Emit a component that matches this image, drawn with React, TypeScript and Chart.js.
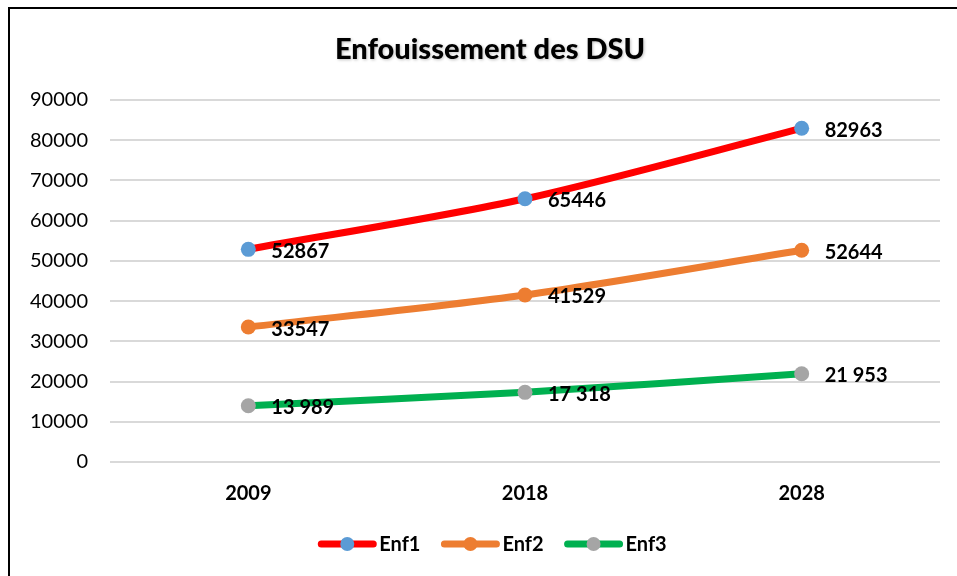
import React, { useEffect, useRef } from "react";
import { Chart, registerables } from "chart.js";

Chart.register(...registerables);

const categories = ["2009", "2018", "2028"];
const enf1 = [52867, 65446, 82963];
const enf2 = [33547, 41529, 52644];
const enf3 = [13989, 17318, 21953];
const enf1Labels = ["52867", "65446", "82963"];
const enf2Labels = ["33547", "41529", "52644"];
const enf3Labels = ["13 989", "17 318", "21 953"];
const seriesNames = ["Enf1", "Enf2", "Enf3"];
const titleText = "Enfouissement des DSU";

const FONT = "Lato, 'Open Sans', sans-serif";
const labelSets = [enf1Labels, enf2Labels, enf3Labels];

const titlePlugin = {
  id: "customTitle",
  afterDraw(chart: any) {
    const ctx = chart.ctx;
    ctx.save();
    ctx.font = `900 29px ${FONT}`;
    ctx.fillStyle = "#000";
    ctx.textAlign = "center";
    ctx.textBaseline = "middle";
    ctx.shadowColor = "rgba(0,0,0,0.25)";
    ctx.shadowBlur = 3;
    ctx.shadowOffsetX = 1;
    ctx.shadowOffsetY = 1;
    ctx.fillText(titleText, 490, 50);
    ctx.restore();
  },
};

const dataLabelPlugin = {
  id: "dataLabels",
  afterDatasetsDraw(chart: any) {
    const ctx = chart.ctx;
    ctx.save();
    ctx.font = `bold 20px ${FONT}`;
    ctx.fillStyle = "#000";
    ctx.textAlign = "left";
    ctx.textBaseline = "middle";
    chart.data.datasets.forEach((ds: any, i: number) => {
      const meta = chart.getDatasetMeta(i);
      meta.data.forEach((pt: any, j: number) => {
        ctx.fillText(labelSets[i][j], pt.x + 23, pt.y + 2);
      });
    });
    ctx.restore();
  },
};

const legendPlugin = {
  id: "customLegend",
  afterDraw(chart: any) {
    const ctx = chart.ctx;
    ctx.save();
    ctx.font = `bold 20px ${FONT}`;
    ctx.textBaseline = "middle";
    ctx.textAlign = "left";
    const lineW = 58;
    const gapText = 3;
    const gapItem = 21;
    const widths = chart.data.datasets.map((ds: any) => lineW + gapText + ctx.measureText(ds.label).width);
    const total = widths.reduce((a: number, b: number) => a + b, 0) + gapItem * (widths.length - 1);
    let x = (chart.width - total) / 2 + 14;
    const y = 544;
    chart.data.datasets.forEach((ds: any, i: number) => {
      ctx.strokeStyle = ds.borderColor;
      ctx.lineWidth = 7;
      ctx.lineCap = "round";
      ctx.beginPath();
      ctx.moveTo(x + 3, y);
      ctx.lineTo(x + lineW - 3, y);
      ctx.stroke();
      ctx.fillStyle = ds.pointBackgroundColor;
      ctx.beginPath();
      ctx.arc(x + lineW / 2, y, 7, 0, Math.PI * 2);
      ctx.fill();
      ctx.fillStyle = "#000";
      ctx.fillText(ds.label, x + lineW + gapText, y + 1);
      x += widths[i] + gapItem;
    });
    ctx.restore();
  },
};

export default function App() {
  const ref = useRef<HTMLCanvasElement | null>(null);
  useEffect(() => {
    if (!ref.current) return;
    const mk = (label: string, data: number[], line: string, point: string) => ({
      label,
      data,
      borderColor: line,
      backgroundColor: line,
      pointBackgroundColor: point,
      pointBorderColor: point,
      pointBorderWidth: 0,
      pointRadius: 7.5,
      borderWidth: 7,
      tension: 0.3,
      borderCapStyle: "round",
    });
    const chart = new Chart(ref.current, {
      type: "line",
      data: {
        labels: categories,
        datasets: [
          mk(seriesNames[0], enf1, "#FF0000", "#5B9BD5"),
          mk(seriesNames[1], enf2, "#ED7D31", "#ED7D31"),
          mk(seriesNames[2], enf3, "#00B050", "#A5A5A5"),
        ],
      },
      options: {
        animation: false,
        responsive: false,
        layout: { padding: { left: 0, right: 17, top: 100, bottom: 50 } },
        plugins: {
          legend: { display: false },
          tooltip: { enabled: false },
          title: { display: false },
        },
        scales: {
          x: {
            offset: true,
            grid: { display: false, drawTicks: false },
            border: { display: false },
            ticks: { color: "#000", font: { family: FONT, size: 20, weight: "bold" }, padding: 20 },
          },
          y: {
            min: 0,
            max: 90000,
            grid: { color: "#D9D9D9", lineWidth: 2, drawTicks: false },
            border: { display: false },
            ticks: {
              stepSize: 10000,
              color: "#000",
              font: { family: FONT, size: 20 },
              padding: 22,
              callback: (v: any) => String(v),
            },
            afterFit: (s: any) => {
              s.width = 110;
            },
          },
        },
      },
      plugins: [titlePlugin, dataLabelPlugin, legendPlugin],
    });
    return () => chart.destroy();
  }, []);
  return (
    <div style={{ position: "fixed", left: 0, top: 0, width: 957, height: 576, background: "#fff", overflow: "hidden" }}>
      <div
        style={{
          position: "absolute",
          left: 8,
          top: 7,
          width: 1000,
          height: 1000,
          borderTop: "2px solid #000",
          borderLeft: "2px solid #000",
        }}
      />
      <canvas ref={ref} width={957} height={576} style={{ position: "absolute", left: 0, top: 0 }} />
    </div>
  );
}
